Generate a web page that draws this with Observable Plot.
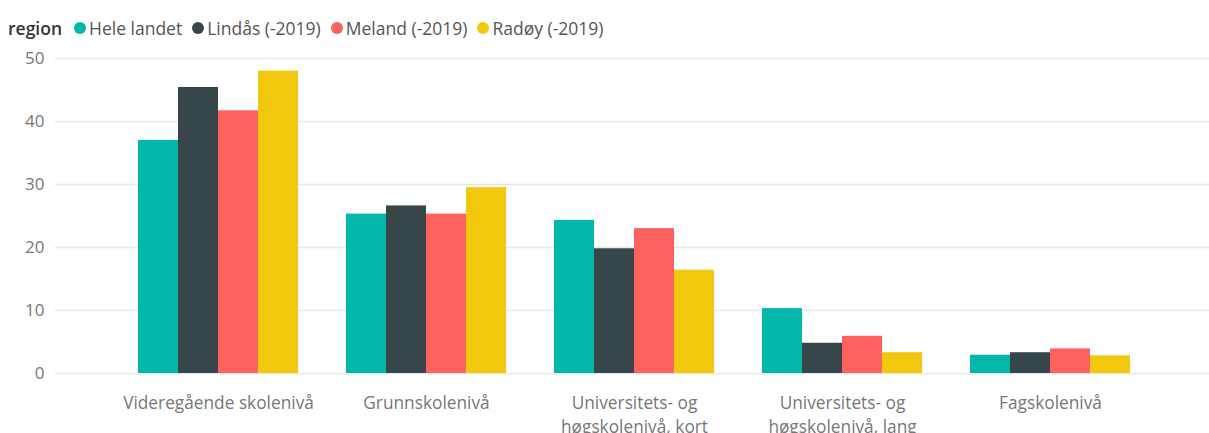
<!DOCTYPE html>
<html>
<head>
<meta charset="utf-8">
<script src="https://cdn.jsdelivr.net/npm/d3@7"></script>
<script src="https://cdn.jsdelivr.net/npm/@observablehq/plot@0.6"></script>
<style>
  html, body { margin: 0; padding: 0; background: #fff; }
  body { width: 1209px; height: 433px; overflow: hidden; font-family: "Open Sans", "Noto Sans", sans-serif; }
  #legend { height: 40px; box-sizing: border-box; padding-top: 16px; display: flex; align-items: center; font-size: 17.5px; color: #555; white-space: nowrap; }
  #legend .title { font-weight: 600; color: #333; margin-left: 8px; margin-right: 12px; }
  #legend .item { display: flex; align-items: center; margin-right: 10px; }
  #legend .sw { width: 12px; height: 12px; border-radius: 50%; margin-right: 3px; }
  #chart svg { display: block; }
</style>
</head>
<body>
<div id="legend"></div>
<div id="chart"></div>
<script>
const categories = ["Videregående skolenivå", "Grunnskolenivå", "Universitets- og høgskolenivå, kort", "Universitets- og høgskolenivå, lang", "Fagskolenivå"];
const tickLabels = ["Videregående skolenivå", "Grunnskolenivå", "Universitets- og\nhøgskolenivå, kort", "Universitets- og\nhøgskolenivå, lang", "Fagskolenivå"];
const regions = ["Hele landet", "Lindås (-2019)", "Meland (-2019)", "Radøy (-2019)"];
const heleLandet = [37.0, 25.3, 24.3, 10.3, 2.9];
const lindas = [45.4, 26.6, 19.8, 4.8, 3.3];
const meland = [41.7, 25.3, 23.0, 5.9, 3.9];
const radoy = [48.0, 29.5, 16.4, 3.3, 2.8];
const colors = ["#01B8AA", "#374649", "#FD625E", "#F2C80F"];
const yTicks = [0, 10, 20, 30, 40, 50];
const legendTitle = "region";

const series = [heleLandet, lindas, meland, radoy];
const data = [];
categories.forEach((c, i) => {
  regions.forEach((r, j) => data.push({category: c, region: r, value: series[j][i]}));
});

// Legend
const legend = document.getElementById("legend");
const t = document.createElement("span");
t.className = "title"; t.textContent = legendTitle;
legend.appendChild(t);
regions.forEach((r, j) => {
  const it = document.createElement("span"); it.className = "item";
  const sw = document.createElement("span"); sw.className = "sw"; sw.style.background = colors[j];
  const tx = document.createElement("span"); tx.textContent = r;
  it.appendChild(sw); it.appendChild(tx); legend.appendChild(it);
});

const W = 1209, H = 393, mL = 55, mR = 0;
const padInner = 0.2308, padOuter = 0.3894, align = 0.515;
// group bandwidth as the x scale will compute it, used to split each group into one slot per region
const bw = d3.scaleBand().domain(categories).range([mL, W - mR]).paddingInner(padInner).paddingOuter(padOuter).align(align).bandwidth();
const slot = bw / regions.length;

const chart = Plot.plot({
  width: W,
  height: H,
  marginTop: 18,
  marginBottom: 60,
  marginLeft: mL,
  marginRight: mR,
  style: {fontFamily: '"Open Sans", "Noto Sans", sans-serif', fontSize: "17px", background: "#fff"},
  x: {domain: categories, paddingInner: padInner, paddingOuter: padOuter, align: align, label: null},
  y: {domain: [0, 50], label: null},
  color: {domain: regions, range: colors},
  marks: [
    Plot.gridY(yTicks, {stroke: "#e6e6e6", strokeOpacity: 1, strokeWidth: 1.3}),
    Plot.axisY(yTicks, {tickSize: 0, tickPadding: 11, fill: "#777", fontSize: 17, label: null}),
    ...regions.map((r, j) => Plot.barY(data.filter(d => d.region === r), {
      x: "category", y: "value", fill: "region",
      insetLeft: j * slot, insetRight: (regions.length - 1 - j) * slot
    })),
    Plot.axisX({tickSize: 0, tickPadding: 18, tickFormat: d => tickLabels[categories.indexOf(d)], lineHeight: 1.4, fill: "#777", fontSize: 17.3, label: null})
  ]
});
document.getElementById("chart").appendChild(chart);
</script>
</body>
</html>
